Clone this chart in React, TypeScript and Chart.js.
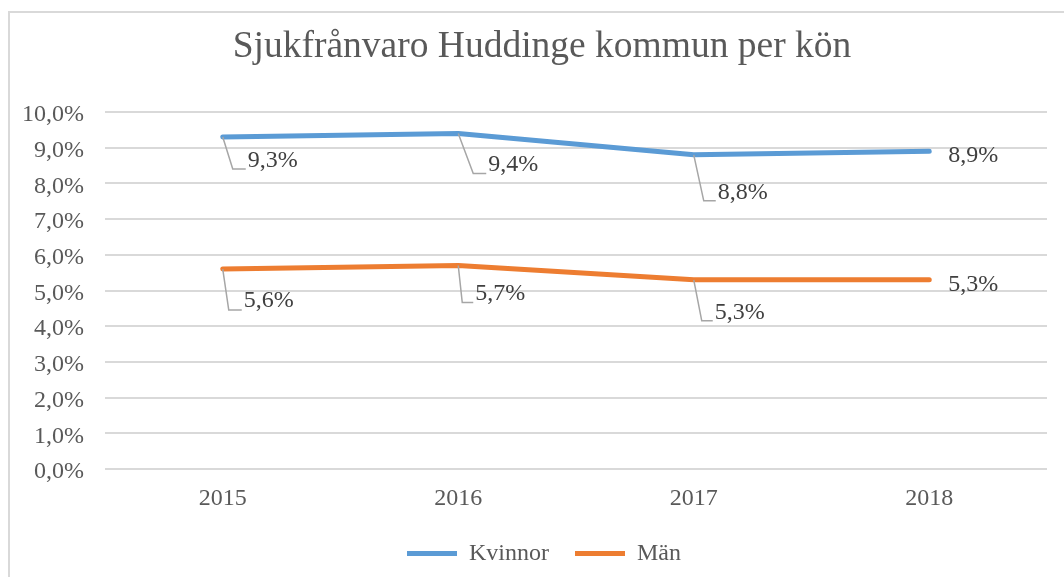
import React, { useEffect, useRef } from "react";
import { Chart, registerables } from "chart.js";

Chart.register(...registerables);

const categories = ["2015", "2016", "2017", "2018"];
const kvinnor = [9.3, 9.4, 8.8, 8.9];
const man = [5.6, 5.7, 5.3, 5.3];
const seriesNames = ["Kvinnor", "Män"];
const yMin = 0;
const yMax = 10;
const yStep = 1;

const SERIF = "'Liberation Serif', 'Times New Roman', serif";
const TEXT = "#595959";
const GRID = "#d9d9d9";
const FS = 24;

// label placement (styling): text offset from point, optional leader bend
const labelPlacement = [
  [
    { dx: 25, dy: 24, leader: [10, 32] },
    { dx: 30, dy: 31, leader: [15, 40] },
    { dx: 24, dy: 38, leader: [10, 46] },
    { dx: 19, dy: 4, leader: null },
  ],
  [
    { dx: 21, dy: 32, leader: [6, 41] },
    { dx: 17, dy: 28, leader: [4, 37] },
    { dx: 21, dy: 33, leader: [8, 41] },
    { dx: 19, dy: 5, leader: null },
  ],
];

// horizontal centres of the title and legend (the original chart box is wider than the view)
const TITLE_CENTER = 542;
const LEGEND_CENTER = 544;

const fmt = (v: number) => v.toFixed(1).replace(".", ",") + "%";

const centerPlugin = {
  id: "centerBoxes",
  afterLayout(chart: any) {
    const shift = (box: any, c: number) => {
      if (!box) return;
      const d = c - (box.left + box.right) / 2;
      box.left += d;
      box.right += d;
    };
    shift(chart.titleBlock, TITLE_CENTER);
    shift(chart.legend, LEGEND_CENTER);
  },
};

const dataLabelPlugin = {
  id: "dataLabels",
  afterDatasetsDraw(chart: any) {
    const ctx = chart.ctx;
    ctx.save();
    chart.data.datasets.forEach((ds: any, i: number) => {
      const meta = chart.getDatasetMeta(i);
      meta.data.forEach((el: any, j: number) => {
        const p = labelPlacement[i][j];
        const x = el.x;
        const y = el.y;
        if (p.leader) {
          ctx.beginPath();
          ctx.strokeStyle = "#a6a6a6";
          ctx.lineWidth = 1.5;
          ctx.moveTo(x, y);
          ctx.lineTo(x + p.leader[0], y + p.leader[1]);
          ctx.lineTo(x + p.dx - 2, y + p.leader[1]);
          ctx.stroke();
        }
        ctx.fillStyle = "#404040";
        ctx.font = `${FS}px ${SERIF}`;
        ctx.textAlign = "left";
        ctx.textBaseline = "middle";
        ctx.fillText(fmt(ds.data[j]), x + p.dx, y + p.dy);
      });
    });
    ctx.restore();
  },
};

export default function App() {
  const ref = useRef<HTMLCanvasElement>(null);
  useEffect(() => {
    if (!ref.current) return;
    const chart = new Chart(ref.current, {
      type: "line",
      data: {
        labels: categories,
        datasets: [
          {
            label: seriesNames[0],
            data: kvinnor,
            borderColor: "#5B9BD5",
            backgroundColor: "#5B9BD5",
            borderWidth: 5,
            borderCapStyle: "round",
            borderJoinStyle: "round",
            pointRadius: 0,
            tension: 0,
          },
          {
            label: seriesNames[1],
            data: man,
            borderColor: "#ED7D31",
            backgroundColor: "#ED7D31",
            borderWidth: 5,
            borderCapStyle: "round",
            borderJoinStyle: "round",
            pointRadius: 0,
            tension: 0,
          },
        ],
      },
      options: {
        responsive: false,
        animation: false,
        events: [],
        layout: { padding: { left: 12, right: 17, top: 0, bottom: 1.5 } },
        plugins: {
          title: {
            display: true,
            text: "Sjukfrånvaro Huddinge kommun per kön",
            color: TEXT,
            font: { family: SERIF, size: 37.5, weight: "normal" },
            padding: { top: 24.5, bottom: 42.5 },
          },
          legend: {
            position: "bottom",
            labels: {
              usePointStyle: true,
              pointStyle: "line",
              pointStyleWidth: 50,
              padding: 26,
              color: TEXT,
              font: { family: SERIF, size: FS },
            },
          },
          tooltip: { enabled: false },
        },
        scales: {
          x: {
            offset: true,
            grid: { display: false, drawTicks: false },
            border: { display: false },
            ticks: { color: TEXT, font: { family: SERIF, size: FS }, padding: 15 },
            afterFit: (s: any) => {
              s.height = 46.5;
            },
          },
          y: {
            min: yMin,
            max: yMax,
            grid: { color: GRID, lineWidth: 2, drawTicks: false },
            border: { display: false },
            ticks: {
              stepSize: yStep,
              color: TEXT,
              font: { family: SERIF, size: FS },
              padding: 21,
              labelOffset: 3,
              callback: (v: any) => fmt(Number(v)),
            },
            afterFit: (s: any) => {
              s.width = 93;
            },
          },
        },
      },
      plugins: [centerPlugin, dataLabelPlugin],
    });
    return () => chart.destroy();
  }, []);
  return (
    <div
      style={{
        position: "fixed",
        left: 0,
        top: 0,
        width: 1064,
        height: 577,
        overflow: "hidden",
        background: "#ffffff",
      }}
    >
      <div
        style={{
          position: "absolute",
          left: 8,
          top: 11,
          width: 2000,
          height: 2000,
          borderLeft: "2px solid #d9d9d9",
          borderTop: "2px solid #d9d9d9",
        }}
      />
      <canvas
        ref={ref}
        width={1064}
        height={577}
        style={{ position: "absolute", left: 0, top: 0, width: 1064, height: 577 }}
      />
    </div>
  );
}
